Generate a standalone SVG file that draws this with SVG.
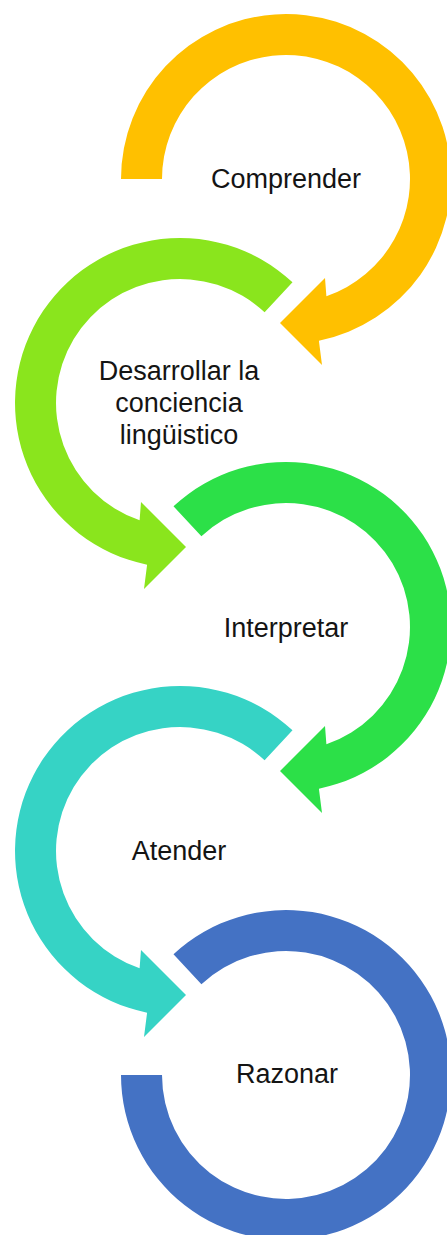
<svg xmlns="http://www.w3.org/2000/svg" width="447" height="1235" viewBox="0 0 447 1235">
  <style>
    .lbl { font-family: "Liberation Sans", Arial, sans-serif; font-size: 27px; fill: #141414; text-anchor: middle; }
    .yellow { fill: #FFC000; }
    .lime { fill: #8AE51D; }
    .green { fill: #2CE048; }
    .teal { fill: #36D3C5; }
    .blue { fill: #4472C4; }
  </style>
  <rect width="447" height="1235" fill="#ffffff"/>
  <g id="node-comprender">
    <path class="yellow" d="M 121 179 A 165 165 0 1 1 318.9 340.7 L 322 365 L 280 323 L 325 278 L 326.4 296.2 A 124 124 0 1 0 162 179 Z"/>
    <text class="lbl" x="286" y="188">Comprender</text>
  </g>
  <g id="node-desarrollar">
    <path class="lime" d="M 292.5 282.3 A 165 165 0 1 0 147.1 564.7 L 144 589 L 186 547 L 141 502 L 139.6 520.2 A 124 124 0 1 1 264.6 312.3 Z"/>
    <text class="lbl" x="179" y="380">Desarrollar la</text>
    <text class="lbl" x="179" y="412">conciencia</text>
    <text class="lbl" x="179" y="444">lingüistico</text>
  </g>
  <g id="node-interpretar">
    <path class="green" d="M 173.5 506.3 A 165 165 0 1 1 318.9 788.7 L 322 813 L 280 771 L 325 726 L 326.4 744.2 A 124 124 0 1 0 201.4 536.3 Z"/>
    <text class="lbl" x="286" y="637">Interpretar</text>
  </g>
  <g id="node-atender">
    <path class="teal" d="M 292.5 730.3 A 165 165 0 1 0 147.1 1012.7 L 144 1037 L 186 995 L 141 950 L 139.6 968.2 A 124 124 0 1 1 264.6 760.3 Z"/>
    <text class="lbl" x="179" y="860">Atender</text>
  </g>
  <g id="node-razonar">
    <path class="blue" d="M 173.5 954.3 A 165 165 0 1 1 121 1075 L 162 1075 A 124 124 0 1 0 201.4 984.3 Z"/>
    <text class="lbl" x="287" y="1083">Razonar</text>
  </g>
</svg>
